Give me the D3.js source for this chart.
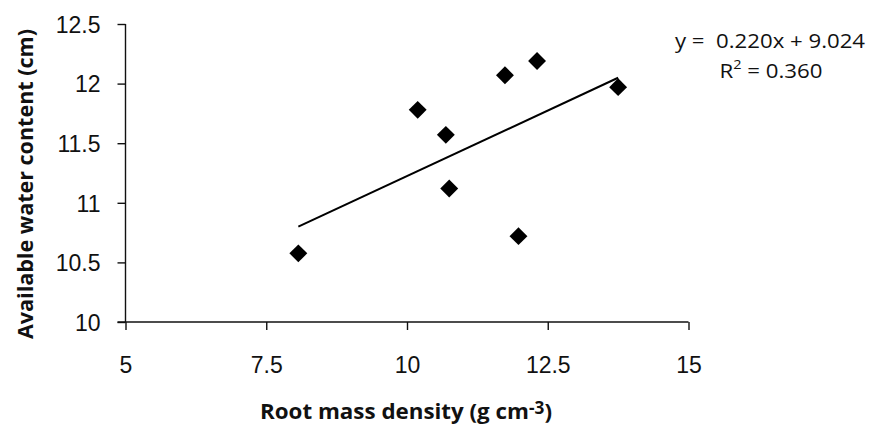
<!DOCTYPE html>
<html>
<head>
<meta charset="utf-8">
<script src="https://cdn.jsdelivr.net/npm/d3@7/dist/d3.min.js"></script>
<style>
  html, body { margin: 0; padding: 0; background: #fff; }
  svg { display: block; }
</style>
</head>
<body>
<svg id="chart" width="870" height="428"></svg>
<script>
// ---- data ----
const rootMassDensity = [8.07, 10.19, 10.69, 10.75, 11.74, 12.31, 11.98, 13.75];
const availableWater  = [10.576, 11.78, 11.57, 11.12, 12.07, 12.19, 10.72, 11.97];
const xTicks = [5, 7.5, 10, 12.5, 15];
const yTicks = [10, 10.5, 11, 11.5, 12, 12.5];
const slope = 0.220, intercept = 9.024, r2 = 0.360;

const svg = d3.select("#chart");
const x = d3.scaleLinear().domain([5, 15]).range([125.5, 688.5]);
const y = d3.scaleLinear().domain([10, 12.5]).range([322, 24]);

const tickFont = "'Liberation Sans', Arial, sans-serif";
const labelFont = "'Open Sans', 'DejaVu Sans', sans-serif";

// y axis
const yAxis = svg.append("g")
  .attr("transform", `translate(${x(5)},0)`)
  .call(d3.axisLeft(y).tickValues(yTicks).tickSize(8).tickPadding(17)
        .tickFormat(d3.format("")));
// x axis
const xAxis = svg.append("g")
  .attr("transform", `translate(0,${y(10)})`)
  .call(d3.axisBottom(x).tickValues(xTicks).tickSize(8).tickPadding(27)
        .tickFormat(d3.format("")));

[yAxis, xAxis].forEach(g => {
  g.select(".domain").remove();
  g.selectAll("line").attr("stroke", "#111").attr("stroke-width", 1.4);
  g.selectAll("text").attr("font-family", tickFont).attr("font-size", 23).attr("fill", "#111");
});
yAxis.selectAll("text").attr("dy", "0.36em");

// axis lines
svg.append("line").attr("x1", x(5)).attr("x2", x(5)).attr("y1", y(12.5)).attr("y2", y(10))
  .attr("stroke", "#111").attr("stroke-width", 1.4);
svg.append("line").attr("x1", x(5) - 8).attr("x2", x(15)).attr("y1", y(10)).attr("y2", y(10))
  .attr("stroke", "#111").attr("stroke-width", 1.4);

// trend line
const xMin = d3.min(rootMassDensity), xMax = d3.max(rootMassDensity);
svg.append("line")
  .attr("x1", x(xMin)).attr("y1", y(slope * xMin + intercept))
  .attr("x2", x(xMax)).attr("y2", y(slope * xMax + intercept))
  .attr("stroke", "#000").attr("stroke-width", 2);

// points
const pts = rootMassDensity.map((v, i) => [v, availableWater[i]]);
const diamond = d3.symbol().type(d3.symbolSquare).size(160);
svg.append("g").selectAll("path").data(pts).join("path")
  .attr("d", diamond)
  .attr("transform", d => `translate(${x(d[0])},${y(d[1])}) rotate(45)`)
  .attr("fill", "#000");

// equation
const eq = svg.append("g").attr("font-family", labelFont).attr("font-size", 20).attr("fill", "#111")
  .attr("text-anchor", "middle");
eq.append("text").attr("x", 770).attr("y", 48)
  .style("white-space", "pre")
  .attr("textLength", 190).attr("lengthAdjust", "spacingAndGlyphs")
  .text(`y =\u00a0 ${slope.toFixed(3)}x + ${intercept.toFixed(3)}`);
const r2t = eq.append("text").attr("x", 771).attr("y", 78)
  .attr("textLength", 103).attr("lengthAdjust", "spacingAndGlyphs");
r2t.append("tspan").text("R");
r2t.append("tspan").attr("font-size", 13).attr("dy", -9).text("2");
r2t.append("tspan").attr("dy", 9).text(` = ${r2.toFixed(3)}`);

// x label
const xl = svg.append("text").attr("x", 406).attr("y", 419)
  .attr("text-anchor", "middle").attr("font-family", labelFont)
  .attr("font-weight", "bold").attr("font-size", 22).attr("fill", "#111")
  .attr("textLength", 292).attr("lengthAdjust", "spacingAndGlyphs");
xl.append("tspan").text("Root mass density (g cm");
xl.append("tspan").attr("font-size", 17).attr("dy", -5).text("-3");
xl.append("tspan").attr("dy", 5).text(")");

// y label
svg.append("text")
  .attr("transform", "translate(33,184) rotate(-90)")
  .attr("text-anchor", "middle").attr("font-family", labelFont)
  .attr("font-weight", "bold").attr("font-size", 22).attr("fill", "#111")
  .attr("textLength", 310).attr("lengthAdjust", "spacingAndGlyphs")
  .text("Available water content (cm)");
</script>
</body>
</html>
